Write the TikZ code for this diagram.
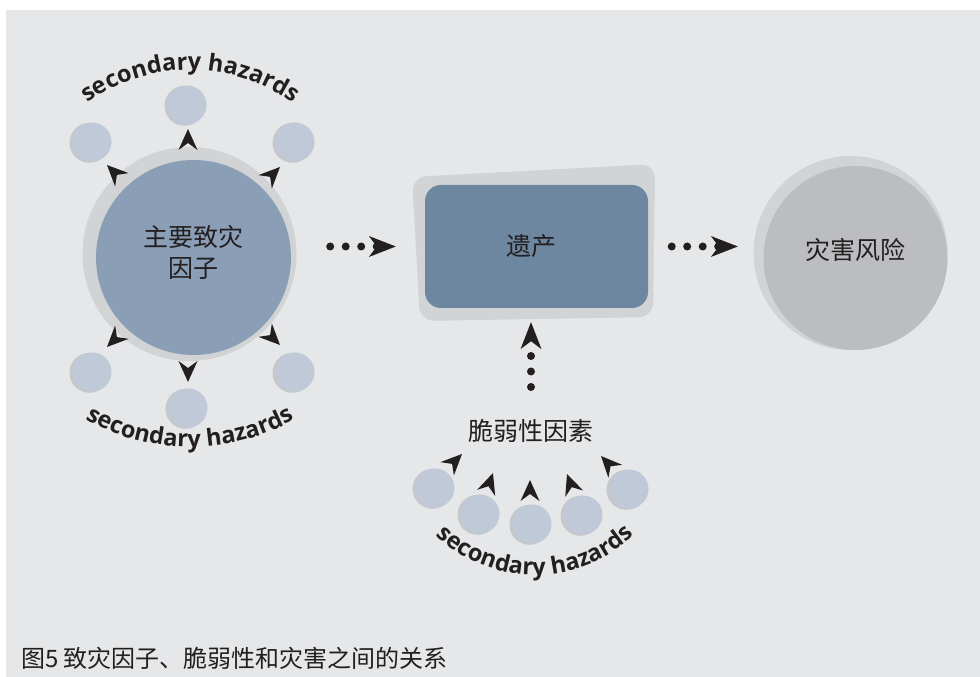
\documentclass[tikz,border=0pt]{standalone}
\usepackage{fontspec}
\setmainfont{Noto Sans CJK SC}
\newfontfamily\hazfont{Open Sans}
\usetikzlibrary{arrows.meta,decorations.text,calc}
\definecolor{panel}{HTML}{E6E7E8}
\definecolor{ring}{HTML}{D1D3D4}
\definecolor{causeblue}{HTML}{8A9EB5}
\definecolor{assetblue}{HTML}{6D87A1}
\definecolor{riskgrey}{HTML}{BCBDC0}
\definecolor{hazfill}{HTML}{BFC9D7}
\definecolor{hazshade}{HTML}{C6C7CA}
\definecolor{ink}{HTML}{231F20}
\def\tiphead(#1,#2,#3){\fill[ink,shift={(#1,#2)},rotate=#3] (0,0) -- (-21,9.5) -- (-14,0) -- (-21,-9.5) -- cycle;}
\def\hazard(#1,#2)#3{\fill[hazshade] (#1-2.5,#2-0.8) circle (20); \node[hazard] (#3) at (#1,#2) {};}
\def\hazardarc(#1)(#2:#3:#4){\path[decorate,decoration={text along path,text align=center,text color=ink,
  text={|\hazfont\bfseries\fontsize{23.5}{23.5}\selectfont|secondary hazards}}] ($(#1)+({#4*cos(#2)},{#4*sin(#2)})$) arc (#2:#3:#4);}

\begin{document}
\begin{tikzpicture}[x=1pt,y=1pt,
	hazard/.style={circle,fill=hazfill,minimum size=39pt,inner sep=0pt},
	bigtext/.style={font=\fontsize{25}{31}\selectfont,text=ink,align=center,inner sep=0pt},
	dotlink/.style={ink,line width=8pt,line cap=round,dash pattern=on 0pt off 15.5pt,
		-{Stealth[length=27pt,width=21pt,inset=8pt,line width=0pt]}}]
		%%%%% START %%%%%
		
		\useasboundingbox (0,0) rectangle (980,677);
		\fill[white] (0,0) rectangle (980,677);
		\fill[panel] (6,0) rectangle (980,667);
		
		% primary hazard
		\fill[ring] (189.5,423) circle (107);
		\node[circle,fill=causeblue,minimum size=195pt,inner sep=0pt] (cause) at (193.5,419.5) {};
		\node[bigtext] (causetext) at (193,425) {主要致灾\\因子};
		
		\hazard(92,535){ht1}
		\hazard(187,572){ht2}
		\hazard(295,535){ht3}
		\hazard(92,305){hb1}
		\hazard(188,269){hb2}
		\hazard(295,305){hb3}
		
		\tiphead(107,512,135)
		\tiphead(188,548,90)
		\tiphead(280,510,45)
		\tiphead(107,330,225)
		\tiphead(188,295,270)
		\tiphead(280,332,315)
		
		\hazardarc(190,431)(150:30:176)
		\hazardarc(190,442)(235:305:212)
		
		% exposure
		\fill[ring,rounded corners=14pt] (412,500) -- (655,513) -- (653,360) -- (420,356) -- cycle;
		\node[rectangle,rounded corners=16pt,fill=assetblue,minimum width=223pt,minimum height=123pt] (asset) at (536.5,430.5) {};
		\node[bigtext] (assettext) at (531,431) {遗产};
		
		% risk
		\fill[ring] (850.5,424) circle (97);
		\node[circle,fill=riskgrey,minimum size=184pt,inner sep=0pt] (risk) at (855.5,419) {};
		\node[bigtext] (risktext) at (855,427) {灾害风险};
		
		\draw[dotlink,shorten <=39pt,shorten >=29pt] (cause.east |- asset.west) -- (asset.west);
		\draw[dotlink,shorten <=23.5pt,shorten >=25.5pt] (asset.east) -- (risk.west |- asset.east);
		
		% vulnerability
		\node[bigtext] (vuln) at (530.5,246) {脆弱性因素};
		\coordinate (vulntop) at (531,290);
		\draw[dotlink,shorten >=14pt] (vulntop) -- (vulntop |- asset.south);
		
		\hazard(435,189){hv1}
		\hazard(480,163){hv2}
		\hazard(532,153){hv3}
		\hazard(583,162){hv4}
		\hazard(629,188){hv5}
		
		\tiphead(462,223,45)
		\tiphead(493,204,71)
		\tiphead(530,197,90)
		\tiphead(567,203,110)
		\tiphead(601,221,133)
		
		\hazardarc(535,246)(225:315:144)
		
		\node[anchor=west,font=\fontsize{24}{24}\selectfont,text=ink,inner sep=0pt] (caption) at (21,19) {图5 致灾因子、脆弱性和灾害之间的关系};
		
		%%%%% END %%%%%
\end{tikzpicture}
\end{document}
